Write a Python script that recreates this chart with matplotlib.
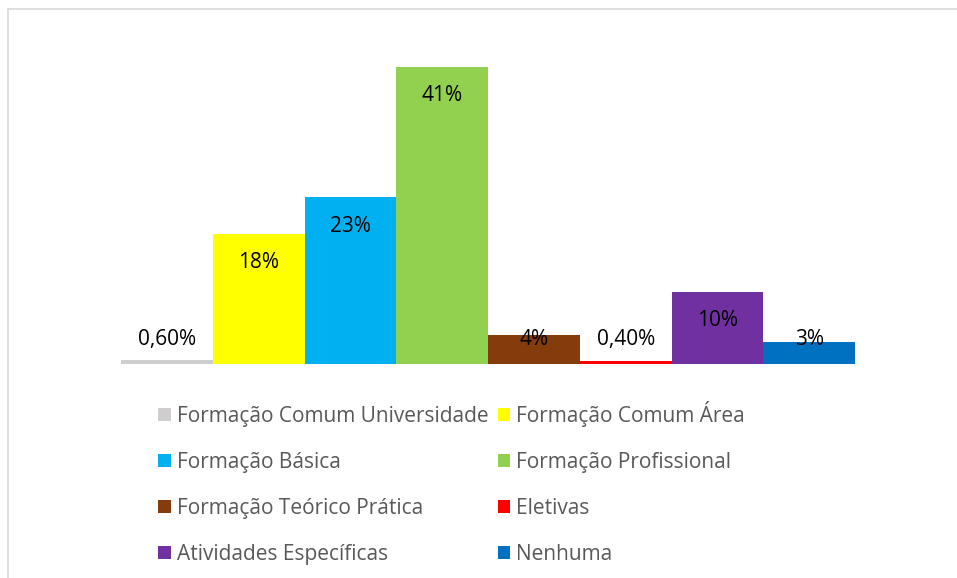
import matplotlib.pyplot as plt
from matplotlib.patches import Rectangle

categorias = ["Formação Comum Universidade", "Formação Comum Área", "Formação Básica",
              "Formação Profissional", "Formação Teórico Prática", "Eletivas",
              "Atividades Específicas", "Nenhuma"]
valores = [0.6, 18, 23, 41, 4, 0.4, 10, 3]
rotulos = ["0,60%", "18%", "23%", "41%", "4%", "0,40%", "10%", "3%"]
cores = ["#CFCDCD", "#FFFF00", "#00B0F0", "#92D050", "#843C0C", "#FF0000", "#7030A0", "#0070C0"]

plt.rcParams['font.family'] = ['Open Sans', 'DejaVu Sans']

W, H = 957, 578
fig = plt.figure(figsize=(W / 100, H / 100), dpi=100)
ax = fig.add_axes([121 / W, 1 - 364 / H, (855 - 121) / W, (364 - 38) / H])

barras = []
for i in range(len(valores)):
    b = ax.bar(i, valores[i], width=1.0, color=cores[i], label=categorias[i])
    barras.append(b)
    # rotulo dentro do topo, ou acima quando a barra e pequena
    ypos = max(valores[i] - 4.0, 3.45)
    ax.text(i, ypos, rotulos[i], ha="center", va="center", fontsize=15, color="black")

ax.set_xlim(-0.5, len(valores) - 0.5)
ax.set_ylim(0, 45)
ax.axis("off")

# legenda em 2 colunas, preenchida por linha
ordem = [0, 2, 4, 6, 1, 3, 5, 7]
handles = [barras[k] for k in ordem]
labels = [categorias[k] for k in ordem]
fig.legend(handles, labels, ncol=2, loc="upper left",
           bbox_to_anchor=(158 / W, 1 - 401 / H), frameon=False,
           fontsize=15, labelcolor="#595959", handlelength=0.6, handleheight=0.6,
           handletextpad=0.3, columnspacing=0.45, labelspacing=1.2,
           borderpad=0, borderaxespad=0)

# moldura cortada na direita e embaixo
fig.patches.append(Rectangle((8 / W, -0.1), 1.2, 1 - 9 / H + 0.1, transform=fig.transFigure,
                             fill=False, edgecolor="#D9D9D9", linewidth=1.2))

fig.savefig("out.png", dpi=100)
